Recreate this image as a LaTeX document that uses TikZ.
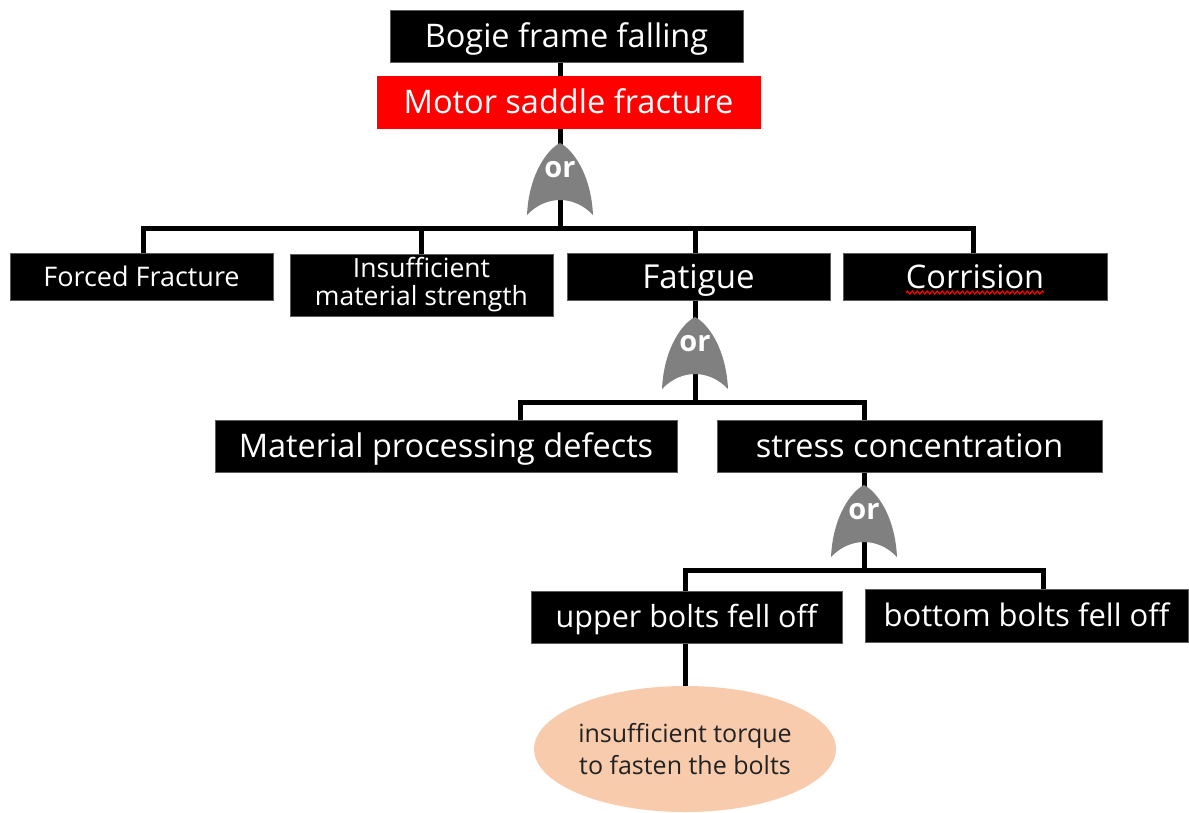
\documentclass[tikz,border=0pt]{standalone}
\usepackage{fontspec}
\setmainfont{Open Sans}
\usepackage{tikz}
\usetikzlibrary{positioning,shapes.geometric,backgrounds,decorations.pathmorphing}
\definecolor{gategray}{HTML}{808080}
\definecolor{peach}{HTML}{F8CBAD}
\definecolor{alarm}{HTML}{FF0000}
\definecolor{bk90}{HTML}{222222}
\definecolor{bk70}{HTML}{5C5C5C}
\tikzset{
  eventbox/.style={
    rectangle, draw=bk70, fill=#1, thin, text=white,
    align=center, inner sep=0pt
  },
  eventbox/.default=black,
  % one line of text, its capitals centred in the box
  boxtext/.style={
    font=\fontsize{#1}{#1}\selectfont,
    /utils/exec={\pgfmathsetmacro\capht{0.72*#1}},
    text height=\capht pt, text depth=0pt
  },
  causebox/.style={
    ellipse, fill=peach, text=bk90, align=center, inner sep=0pt
  },
  link/.style={draw=black, line width=5},
  orgate/.pic={
    \fill[gategray] (-33,0) .. controls (-31,-42) and (-12,-66) .. (0,-72)
      .. controls (12,-66) and (31,-42) .. (33,0)
      .. controls (14,-20) and (-14,-20) .. (-33,0);
    \node[text=white, font=\fontsize{29}{32}\selectfont\bfseries] (-lbl) at (0,-45) {or};
    \coordinate (-in) at (0,-72);
  },
}
\begin{document}
\begin{tikzpicture}[x=1pt, y=-1pt]
  \useasboundingbox (0,0) rectangle (1189,812);
  % top events
  \node[eventbox, boxtext=32.5, minimum width=353, minimum height=52] (top) at (566.5,36) {Bogie frame falling};
  \node[eventbox=alarm, boxtext=32.5, draw=alarm, minimum width=383, minimum height=52] (saddle) at (568.5,102) {Motor saddle fracture};
  % first level
  \node[eventbox, boxtext=27, minimum width=263, minimum height=47] (forced) at (141.5,276.5) {Forced Fracture};
  \node[eventbox, minimum width=263, minimum height=62, font=\fontsize{26.5}{28}\selectfont] (insuf) at (421.5,285) {Insufficient\\material strength};
  \node[eventbox, boxtext=33, minimum width=263, minimum height=47] (fatigue) at (698.5,276.5) {Fatigue};
  \node[eventbox, boxtext=32.5, minimum width=264, minimum height=47] (corr) at (975,276.5) {Corrision};
  % second level
  \node[eventbox, boxtext=32.5, minimum width=462, minimum height=52] (material) at (446,446) {Material processing defects};
  \node[eventbox, boxtext=32.5, minimum width=385, minimum height=52] (stress) at (909.5,446) {stress concentration};
  % third level
  \node[eventbox, boxtext=30.5, minimum width=311, minimum height=52] (upper) at (686.5,617) {upper bolts fell off};
  \node[eventbox, boxtext=31, minimum width=323, minimum height=53] (bottom) at (1026.5,615.5) {bottom bolts fell off};
  \node[causebox, minimum width=262, minimum height=126, font=\fontsize{25}{32}\selectfont] (cause) at (685,749) {insufficient torque\\to fasten the bolts};
  % gates
  \pic (gA) at (560,215) {orgate};
  \pic (gB) at (695,389) {orgate};
  \pic (gC) at (864,557) {orgate};
  \coordinate (busA-l) at (143,228);
  \coordinate (busA-r) at (973,228);
  \coordinate (busB-l) at (520,402);
  \coordinate (busB-r) at (864,402);
  \coordinate (busC-l) at (685,570);
  \coordinate (busC-r) at (1043,570);
  \begin{scope}[on background layer]
    \draw[link] (top.south -| gA-in) -- (gA-in |- busA-l);
    \draw[link] (forced.north -| busA-l) -- (busA-l) -- (busA-r) -- (corr.north -| busA-r);
    \draw[link] (insuf.north) -- (insuf.north |- busA-l);
    \draw[link] (gB-in |- busA-l) -- (gB-in |- busB-l);
    \draw[link] (material.north -| busB-l) -- (busB-l) -- (busB-r) -- (gC-in |- busC-l);
    \draw[link] (upper.north -| busC-l) -- (busC-l) -- (busC-r) -- (bottom.north -| busC-r);
    \draw[link] (upper.south -| cause.north) -- (cause.north);
  \end{scope}
  % spell-check mark
  \draw[alarm, line width=1.2, decorate, decoration={zigzag, amplitude=1.5, segment length=5}]
    ([xshift=-69pt, yshift=-16pt]corr.center) -- ([xshift=69pt, yshift=-16pt]corr.center);
\end{tikzpicture}
\end{document}
